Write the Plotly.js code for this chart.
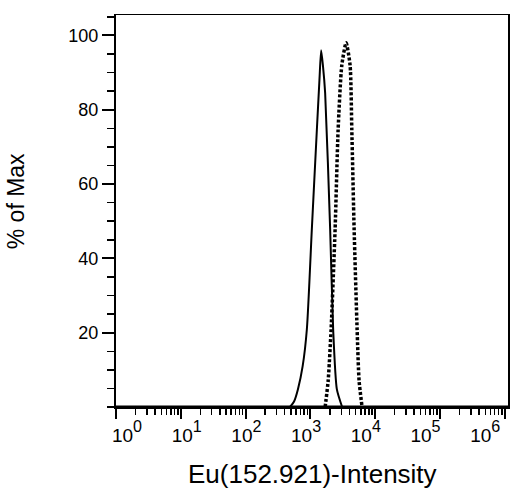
<!DOCTYPE html>
<html>
<head>
<meta charset="utf-8">
<script src="https://cdn.plot.ly/plotly-3.0.1.min.js"></script>
<style>html,body{margin:0;padding:0;background:#fff;}#chart{width:510px;height:496px;}</style>
</head>
<body>
<div id="chart"></div>
<script>
// Solid histogram (sample 1)
var solidX = [484, 560, 643, 760, 883, 1054, 1259, 1380, 1466, 1560, 1690, 2018, 2245, 2560, 3090];
var solidY = [0, 1.5, 4.8, 11, 21, 48, 74.6, 88, 96, 92, 84.5, 48, 21, 4.8, 0];
// Dotted histogram (sample 2)
var dotX = [1690, 1880, 2090, 2410, 2680, 3055, 3560, 4100, 4360, 4730, 5260, 5650, 6280];
var dotY = [0, 7, 21, 48, 74.6, 92, 98, 92, 74.6, 48, 21, 7, 0];

var xTickVals = [1, 10, 100, 1000, 10000, 100000, 1000000];
var xExponents = ['0', '1', '2', '3', '4', '5', '6'];
var yTickVals = [20, 40, 60, 80, 100];
var xTitle = 'Eu(152.921)-Intensity';
var yTitle = '% of Max';

var xTickText = xExponents.map(function (e) {
  return '<span style="font-size:19px">10</span><sup>' + e + '</sup>';
});
var xMinor = [];
xTickVals.slice(0, 6).forEach(function (d) {
  for (var m = 2; m <= 9; m++) xMinor.push(d * m);
});

var traces = [
  {x: solidX, y: solidY, type: 'scatter', mode: 'lines',
   line: {color: '#000', width: 2, shape: 'spline', smoothing: 0.6}, hoverinfo: 'skip'},
  {x: dotX, y: dotY, type: 'scatter', mode: 'lines',
   line: {color: '#000', width: 3.5, dash: '3px,2px', shape: 'spline', smoothing: 0.6}, hoverinfo: 'skip'},
  // invisible trace bound to the label axis
  {x: [1], y: [0], xaxis: 'x2', type: 'scatter', mode: 'markers',
   marker: {opacity: 0}, hoverinfo: 'skip'}
];

var layout = {
  width: 510, height: 496,
  margin: {l: 116, r: 2, t: 15, b: 89},
  paper_bgcolor: '#fff', plot_bgcolor: '#fff',
  showlegend: false,
  font: {family: 'Liberation Sans, Arial, sans-serif', color: '#000', size: 16},
  xaxis: {
    type: 'log', range: [0, 6.05],
    tickvals: xTickVals, showticklabels: false,
    ticks: 'outside', ticklen: 10, tickwidth: 2, tickcolor: '#000',
    minor: {tickmode: 'array', tickvals: xMinor, ticks: 'outside', ticklen: 6, tickwidth: 1.5, tickcolor: '#000', showgrid: false},
    showline: true, linecolor: '#000', linewidth: 1.5, mirror: true,
    showgrid: false, zeroline: false
  },
  xaxis2: {
    type: 'log', range: [-0.184, 6.382], overlaying: 'x', anchor: 'y', side: 'bottom',
    tickvals: xTickVals, ticktext: xTickText,
    ticks: 'outside', ticklen: 6, tickcolor: 'rgba(0,0,0,0)',
    showline: false, showgrid: false, zeroline: false,
    tickfont: {size: 23}
  },
  yaxis: {
    range: [0, 105.5],
    tickvals: yTickVals,
    ticks: 'outside', ticklen: 12, tickwidth: 2, tickcolor: '#000',
    minor: {dtick: 5, tick0: 0, ticks: 'outside', ticklen: 7, tickwidth: 1.5, tickcolor: '#000', showgrid: false},
    showline: true, linecolor: '#000', linewidth: 2, mirror: true,
    showgrid: false, zeroline: false,
    tickfont: {size: 18}
  },
  annotations: [
    {text: xTitle, xref: 'paper', yref: 'paper', x: 0.5, y: -0.171,
     xanchor: 'center', yanchor: 'middle', showarrow: false, font: {size: 26}},
    {text: yTitle, xref: 'paper', yref: 'paper', x: -0.255, y: 0.525,
     xanchor: 'center', yanchor: 'middle', textangle: -90, showarrow: false, font: {size: 23}}
  ],
  shapes: [
    {type: 'line', xref: 'paper', yref: 'paper', x0: 0, x1: 1, y0: 0, y1: 0,
     line: {color: '#000', width: 3}}
  ]
};

Plotly.newPlot('chart', traces, layout, {displayModeBar: false, staticPlot: true});
</script>
</body>
</html>
